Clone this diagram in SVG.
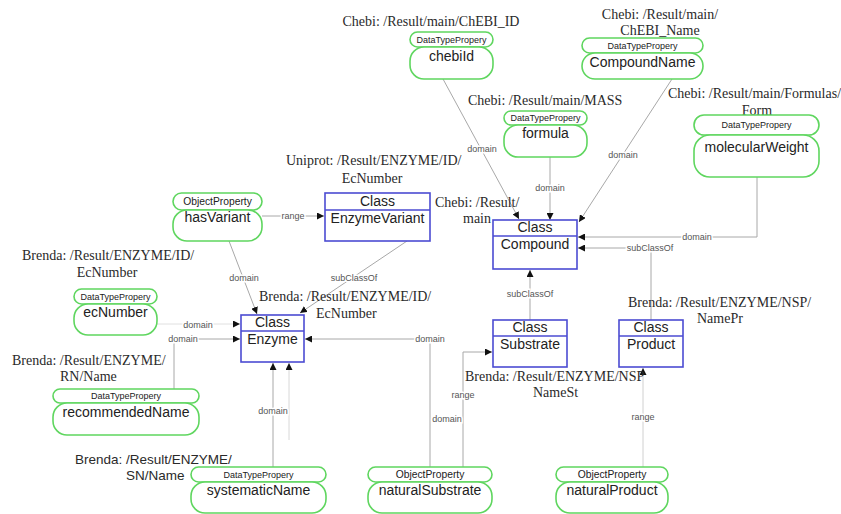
<svg xmlns="http://www.w3.org/2000/svg" width="841" height="514" viewBox="0 0 841 514">
  <defs>
    <marker id="arrow" viewBox="0 0 10 10" refX="10" refY="5" markerWidth="7" markerHeight="7" markerUnits="userSpaceOnUse" orient="auto">
      <path d="M0,0 L10,5 L0,10 z" fill="#111"/>
    </marker>
    <style>
      .bg { fill: #ffffff; }
      .prop { fill: #ffffff; stroke: #5fd65f; stroke-width: 1.6; }
      .cls { fill: #ffffff; stroke: #4b4bd2; stroke-width: 1.6; }
      .edge { fill: none; stroke: #a8a8a8; stroke-width: 1; marker-end: url(#arrow); }
      .faint { fill: none; stroke: #d4d4d4; stroke-width: 1; }
      .sans { font-family: "Liberation Sans", Arial, sans-serif; fill: #222; }
      .hdr { font-size: 9px; text-anchor: middle; }
      .hdr2 { font-size: 10.3px; text-anchor: middle; }
      .name { font-size: 14px; text-anchor: middle; }
      .elabel { font-family: "Liberation Sans", Arial, sans-serif; font-size: 9px; fill: #555; text-anchor: middle; stroke: #ffffff; stroke-width: 3; paint-order: stroke; }
      .src { font-family: "Liberation Serif", "Times New Roman", serif; font-size: 14px; fill: #2a2a2a; }
      .srcs { font-family: "Liberation Sans", Arial, sans-serif; font-size: 13.5px; fill: #2a2a2a; }
    </style>
  </defs>

  <rect class="bg" x="0" y="0" width="841" height="514"/>

  <!-- connectors -->
  <g id="connectors">
    <path class="edge" d="M262,216 L324,216"/>
    <path class="edge" d="M229,241 L257,314"/>
    <path class="edge" d="M407,241 L300,313"/>
    <path class="edge" d="M157,324 L240,324" style="stroke:#e0e0e0"/>
    <path class="edge" d="M174,389 L174,339 L240,339"/>
    <path class="edge" d="M273,467 L273,363"/>
    <path class="edge" d="M289,440 L289,363" style="stroke:#d8d8d8"/>
    <path class="edge" d="M430,467 L430,339 L305,339"/>
    <path class="edge" d="M463,467 L463,352 L492,352"/>
    <path class="edge" d="M643,467 L643,368" style="stroke:#d0d0d0"/>
    <path class="edge" d="M651,320 L651,248 L578,248"/>
    <path class="edge" d="M530,320 L530,270"/>
    <path class="edge" d="M757,177 L757,237 L578,237"/>
    <path class="edge" d="M550,157 L550,220"/>
    <path class="edge" d="M443,79 L519,219"/>
    <path class="edge" d="M672,79 L579,222"/>

    <text class="elabel" x="293" y="219">range</text>
    <text class="elabel" x="244" y="281">domain</text>
    <text class="elabel" x="354" y="281">subClassOf</text>
    <text class="elabel" x="198" y="328">domain</text>
    <text class="elabel" x="183" y="342">domain</text>
    <text class="elabel" x="273" y="414">domain</text>
    <text class="elabel" x="430" y="342">domain</text>
    <text class="elabel" x="447" y="422">domain</text>
    <text class="elabel" x="463" y="398">range</text>
    <text class="elabel" x="643" y="420">range</text>
    <text class="elabel" x="650" y="251">subClassOf</text>
    <text class="elabel" x="530" y="297">subClassOf</text>
    <text class="elabel" x="697" y="240">domain</text>
    <text class="elabel" x="550" y="191">domain</text>
    <text class="elabel" x="482" y="152">domain</text>
    <text class="elabel" x="623" y="158">domain</text>
  </g>

  <!-- source path annotations -->
  <g id="annotations">
    <text class="src" x="431" y="26" text-anchor="middle">Chebi: /Result/main/ChEBI_ID</text>
    <text class="src" x="660" y="19" text-anchor="middle">Chebi: /Result/main/</text>
    <text class="src" x="660" y="35" text-anchor="middle">ChEBI_Name</text>
    <text class="src" x="468" y="105">Chebi: /Result/main/MASS</text>
    <text class="src" x="668" y="98">Chebi: /Result/main/Formulas/</text>
    <text class="src" x="757" y="115" text-anchor="middle">Form</text>
    <text class="src" x="286" y="165">Uniprot: /Result/ENZYME/ID/</text>
    <text class="src" x="372" y="183" text-anchor="middle">EcNumber</text>
    <text class="src" x="435" y="207">Chebi: /Result/</text>
    <text class="src" x="463" y="223">main</text>
    <text class="src" x="22" y="260">Brenda: /Result/ENZYME/ID/</text>
    <text class="src" x="107" y="277" text-anchor="middle">EcNumber</text>
    <text class="src" x="259" y="301">Brenda: /Result/ENZYME/ID/</text>
    <text class="src" x="316" y="318">EcNumber</text>
    <text class="src" x="628" y="307">Brenda: /Result/ENZYME/NSP/</text>
    <text class="src" x="697" y="323">NamePr</text>
    <text class="src" x="12" y="365">Brenda: /Result/ENZYME/</text>
    <text class="src" x="60" y="381">RN/Name</text>
    <text class="src" x="465" y="381">Brenda: /Result/ENZYME/NSP</text>
    <text class="src" x="533" y="397">NameSt</text>
    <text class="srcs" x="75" y="464">Brenda: /Result/ENZYME/</text>
    <text class="srcs" x="126" y="480">SN/Name</text>
  </g>

  <!-- classes -->
  <g id="EnzymeVariant">
    <rect class="cls" x="325" y="193" width="105" height="48"/>
    <line class="cls" x1="325" y1="210" x2="430" y2="210"/>
    <text class="sans name" x="377.5" y="206">Class</text>
    <text class="sans name" x="377.5" y="223">EnzymeVariant</text>
  </g>
  <g id="Enzyme">
    <rect class="cls" x="241" y="315" width="63" height="47"/>
    <line class="cls" x1="241" y1="331" x2="304" y2="331"/>
    <text class="sans name" x="272.5" y="327">Class</text>
    <text class="sans name" x="272.5" y="344">Enzyme</text>
  </g>
  <g id="Compound">
    <rect class="cls" x="493" y="220" width="84" height="49"/>
    <line class="cls" x1="493" y1="236" x2="577" y2="236"/>
    <text class="sans name" x="535" y="232">Class</text>
    <text class="sans name" x="535" y="249">Compound</text>
  </g>
  <g id="Substrate">
    <rect class="cls" x="493" y="320" width="74" height="47"/>
    <line class="cls" x1="493" y1="336" x2="567" y2="336"/>
    <text class="sans name" x="530" y="332">Class</text>
    <text class="sans name" x="530" y="349">Substrate</text>
  </g>
  <g id="Product">
    <rect class="cls" x="619" y="320" width="64" height="47"/>
    <line class="cls" x1="619" y1="336" x2="683" y2="336"/>
    <text class="sans name" x="651" y="332">Class</text>
    <text class="sans name" x="651" y="349">Product</text>
  </g>

  <!-- properties -->
  <g id="chebiId">
    <rect class="prop" x="410" y="32" width="83" height="15" rx="7.5"/>
    <rect class="prop" x="410" y="47" width="83" height="32" rx="14"/>
    <text class="sans hdr" x="451.5" y="42.5">DataTypePropery</text>
    <text class="sans name" x="451.5" y="61">chebiId</text>
  </g>
  <g id="CompoundName">
    <rect class="prop" x="582" y="38" width="121" height="15" rx="7.5"/>
    <rect class="prop" x="582" y="53" width="121" height="26" rx="13"/>
    <text class="sans hdr" x="642.5" y="48.5">DataTypePropery</text>
    <text class="sans name" x="642.5" y="67">CompoundName</text>
  </g>
  <g id="formula">
    <rect class="prop" x="504" y="111" width="83" height="14" rx="7"/>
    <rect class="prop" x="504" y="125" width="83" height="32" rx="14"/>
    <text class="sans hdr" x="545.5" y="121">DataTypePropery</text>
    <text class="sans name" x="545.5" y="138">formula</text>
  </g>
  <g id="molecularWeight">
    <rect class="prop" x="694" y="115" width="125" height="20" rx="10"/>
    <rect class="prop" x="694" y="135" width="125" height="42" rx="16"/>
    <text class="sans hdr" x="756.5" y="128">DataTypePropery</text>
    <text class="sans name" x="756.5" y="152">molecularWeight</text>
  </g>
  <g id="hasVariant">
    <rect class="prop" x="173" y="193" width="89" height="17" rx="8.5"/>
    <rect class="prop" x="173" y="210" width="89" height="31" rx="14"/>
    <text class="sans hdr2" x="217.5" y="205">ObjectProperty</text>
    <text class="sans name" x="217.5" y="222">hasVariant</text>
  </g>
  <g id="ecNumber">
    <rect class="prop" x="74" y="289" width="83" height="15" rx="7.5"/>
    <rect class="prop" x="74" y="304" width="83" height="31" rx="14"/>
    <text class="sans hdr" x="115.5" y="299.5">DataTypePropery</text>
    <text class="sans name" x="115.5" y="317">ecNumber</text>
  </g>
  <g id="recommendedName">
    <rect class="prop" x="53" y="389" width="146" height="14" rx="7"/>
    <rect class="prop" x="53" y="403" width="146" height="32" rx="14"/>
    <text class="sans hdr" x="126" y="399">DataTypePropery</text>
    <text class="sans name" x="126" y="417">recommendedName</text>
  </g>
  <g id="systematicName">
    <rect class="prop" x="191" y="467" width="135" height="15" rx="7.5"/>
    <rect class="prop" x="191" y="482" width="135" height="31" rx="14"/>
    <text class="sans hdr" x="258.5" y="477.5">DataTypePropery</text>
    <text class="sans name" x="258.5" y="495">systematicName</text>
  </g>
  <g id="naturalSubstrate">
    <rect class="prop" x="368" y="467" width="124" height="15" rx="7.5"/>
    <rect class="prop" x="368" y="482" width="124" height="31" rx="14"/>
    <text class="sans hdr2" x="430" y="478">ObjectProperty</text>
    <text class="sans name" x="430" y="495">naturalSubstrate</text>
  </g>
  <g id="naturalProduct">
    <rect class="prop" x="556" y="467" width="112" height="15" rx="7.5"/>
    <rect class="prop" x="556" y="482" width="112" height="31" rx="14"/>
    <text class="sans hdr2" x="612" y="478">ObjectProperty</text>
    <text class="sans name" x="612" y="495">naturalProduct</text>
  </g>
</svg>
